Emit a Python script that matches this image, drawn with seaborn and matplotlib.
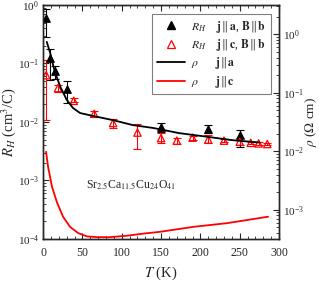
import numpy as np
import matplotlib
matplotlib.use('Agg')
import matplotlib.pyplot as plt
import pandas as pd
import seaborn as sns
from matplotlib.lines import Line2D
from matplotlib.ticker import LogLocator, MultipleLocator, NullFormatter

# Hall coefficient, j || a, B || b (left axis)
t_ha = [4, 9, 15, 30, 150, 210, 250]
rh_ha = [0.6, 0.124, 0.074, 0.037, 0.0083, 0.0075, 0.006]
rh_ha_lo = [0.28, 0.052, 0.054, 0.021, 0.0068, 0.0065, 0.0038]
rh_ha_hi = [0.85, 0.18, 0.091, 0.050, 0.0098, 0.0089, 0.0073]

# Hall coefficient, j || c, B || b (left axis)
t_hc = [4, 19, 39, 65, 89, 120, 150, 170, 190, 210, 230, 250, 264, 274, 285]
rh_hc = [0.063, 0.038, 0.023, 0.0138, 0.0096, 0.0066, 0.0053, 0.0048, 0.0054,
         0.0050, 0.0048, 0.0046, 0.0044, 0.0043, 0.0042]
rh_hc_lo = [0.011, 0.033, 0.0218, 0.0125, 0.0080, 0.0035, 0.0044, 0.0042, 0.0050,
            0.0043, 0.0045, 0.0040, 0.0042, 0.0041, 0.0040]
rh_hc_hi = [0.115, 0.043, 0.026, 0.0152, 0.0112, 0.0091, 0.0065, 0.0054, 0.0058,
            0.0060, 0.0051, 0.0053, 0.0046, 0.0045, 0.0044]

# resistivity (right axis)
t_ra = [4.7, 9, 15, 22, 30, 38, 47, 64, 89, 114, 140, 173, 207, 240, 275]
rho_a = [0.74, 0.48, 0.226, 0.126, 0.076, 0.055, 0.045, 0.040, 0.034, 0.028,
         0.025, 0.0204, 0.0178, 0.0155, 0.0141]
t_rc = [3.8, 6.4, 11.4, 17.8, 25.4, 34.3, 44.5, 55.9, 68.6, 85, 107, 127, 149, 191, 234, 286]
rho_c = [9.8e-3, 5.4e-3, 2.45e-3, 1.32e-3, 7.6e-4, 5.1e-4, 4.0e-4, 3.5e-4, 3.4e-4,
         3.4e-4, 3.6e-4, 3.9e-4, 4.2e-4, 5.1e-4, 5.9e-4, 7.6e-4]

lab_ha = r'$R_H$    $\mathbf{j}\,\Vert\,\mathbf{a}$, $\mathbf{B}\,\Vert\,\mathbf{b}$'
lab_hc = r'$R_H$    $\mathbf{j}\,\Vert\,\mathbf{c}$, $\mathbf{B}\,\Vert\,\mathbf{b}$'
lab_ra = r'$\rho$      $\mathbf{j}\,\Vert\,\mathbf{a}$'
lab_rc = r'$\rho$      $\mathbf{j}\,\Vert\,\mathbf{c}$'

sns.set_theme(style='ticks')
plt.rcParams['font.family'] = ['Liberation Serif', 'DejaVu Serif']
plt.rcParams['mathtext.fontset'] = 'stix'
plt.rcParams['axes.linewidth'] = 1.0

red = '#ff0000'

fig = plt.figure(figsize=(3.19, 2.82), dpi=100)
ax = fig.add_axes([0.135, 0.1525, 0.7398, 0.8298])
ax2 = ax.twinx()

ha_df = pd.DataFrame({'T': t_ha, 'R': rh_ha})
hc_df = pd.DataFrame({'T': t_hc, 'R': rh_hc})
ra_df = pd.DataFrame({'T': t_ra, 'rho': rho_a})
rc_df = pd.DataFrame({'T': t_rc, 'rho': rho_c})

# error bars
ax.errorbar(t_ha, rh_ha, yerr=[np.array(rh_ha) - np.array(rh_ha_lo), np.array(rh_ha_hi) - np.array(rh_ha)],
            fmt='none', ecolor='black', elinewidth=0.8, capsize=3, capthick=0.8, zorder=3)
ax.errorbar(t_hc, rh_hc, yerr=[np.array(rh_hc) - np.array(rh_hc_lo), np.array(rh_hc_hi) - np.array(rh_hc)],
            fmt='none', ecolor=red, elinewidth=0.8, capsize=3, capthick=0.8, zorder=3)

sns.scatterplot(data=ha_df, x='T', y='R', ax=ax, marker='^', s=30, color='black',
                edgecolor='black', linewidth=0.8, zorder=4, legend=False)
sns.scatterplot(data=hc_df, x='T', y='R', ax=ax, marker='^', s=28, facecolor='none',
                edgecolor=red, linewidth=0.9, zorder=4, legend=False)

sns.lineplot(data=ra_df, x='T', y='rho', ax=ax2, color='black', lw=1.3, legend=False)
sns.lineplot(data=rc_df, x='T', y='rho', ax=ax2, color=red, lw=1.3, legend=False)

ax.set_yscale('log')
ax2.set_yscale('log')
ax.set_xlim(0, 300)
ax.set_ylim(1e-4, 1)
ax2.set_ylim(10 ** -3.5, 10 ** 0.5)

ax.xaxis.set_major_locator(MultipleLocator(50))
ax.xaxis.set_minor_locator(MultipleLocator(10))
for a in (ax, ax2):
    a.yaxis.set_major_locator(LogLocator(base=10, numticks=10))
    a.yaxis.set_minor_locator(LogLocator(base=10, subs=np.arange(2, 10), numticks=20))
    a.yaxis.set_minor_formatter(NullFormatter())

ax.tick_params(axis='both', which='both', direction='in', top=True, labelsize=8, pad=3)
ax.tick_params(axis='x', which='both', pad=6, labelsize=8.5)
ax.tick_params(which='major', length=4, width=0.8)
ax.tick_params(which='minor', length=2, width=0.6)
ax2.tick_params(axis='y', which='both', direction='in', labelsize=8, pad=3)
ax2.tick_params(which='major', length=4, width=0.8)
ax2.tick_params(which='minor', length=2, width=0.6)

ax.set_xlabel(r'$T$ (K)', fontsize=10.5, labelpad=4)
ax.set_ylabel(r'$R_H$ (cm$^3$/C)', fontsize=10.5, labelpad=0)
ax2.set_ylabel(r'$\rho$ ($\Omega$ cm)', fontsize=9.5, labelpad=-1)

ax.text(0.182, 0.23, r'Sr$_{2.5}$Ca$_{11.5}$Cu$_{24}$O$_{41}$', transform=ax.transAxes,
        fontsize=8.5, ha='left', va='center')

handles = [
    Line2D([], [], ls='none', marker='^', ms=5.5, color='black'),
    Line2D([], [], ls='none', marker='^', ms=5.5, mfc='white', mec=red, mew=0.9),
    Line2D([], [], color='black', lw=1.3),
    Line2D([], [], color=red, lw=1.3),
]
lg = ax2.legend(handles, [lab_ha, lab_hc, lab_ra, lab_rc], loc='upper right',
                bbox_to_anchor=(0.966, 0.962), borderaxespad=0, fancybox=False,
                framealpha=1, edgecolor='gray', fontsize=8.5, handlelength=2.4,
                labelspacing=0.2, borderpad=0.4, handletextpad=0.5)
lg.get_frame().set_linewidth(0.8)

fig.savefig('out.png', dpi=100)
